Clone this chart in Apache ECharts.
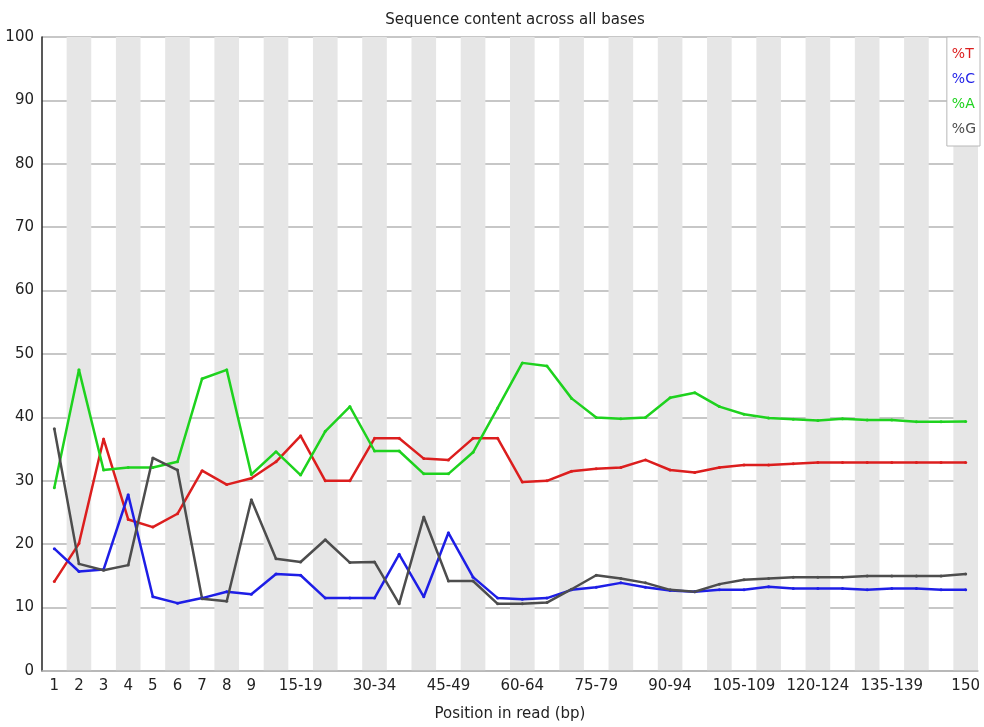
<!DOCTYPE html>
<html>
<head>
<meta charset="utf-8">
<script src="https://cdn.jsdelivr.net/npm/echarts@6/dist/echarts.min.js"></script>
<style>
  html, body { margin: 0; padding: 0; background: #fff; }
  #chart { width: 984px; height: 727px; }
</style>
</head>
<body>
<div id="chart"></div>
<script>
// Read positions (single bases, then 5-bp bins, then the last base)
const positions = ['1','2','3','4','5','6','7','8','9',
  '10-14','15-19','20-24','25-29','30-34','35-39','40-44','45-49','50-54','55-59',
  '60-64','65-69','70-74','75-79','80-84','85-89','90-94','95-99','100-104',
  '105-109','110-114','115-119','120-124','125-129','130-134','135-139','140-144',
  '145-149','150'];

// Percentage of each base at every position
const pctT = [14.1, 20.1, 36.6, 23.9, 22.7, 24.8, 31.6, 29.4, 30.4, 33.0, 37.1, 30.0, 30.0,
  36.7, 36.7, 33.5, 33.3, 36.7, 36.7, 29.8, 30.0, 31.5, 31.9, 32.1, 33.3, 31.7, 31.3, 32.1,
  32.5, 32.5, 32.7, 32.9, 32.9, 32.9, 32.9, 32.9, 32.9, 32.9];
const pctC = [19.3, 15.7, 16.0, 27.8, 11.7, 10.7, 11.5, 12.5, 12.1, 15.3, 15.1, 11.5, 11.5,
  11.5, 18.4, 11.7, 21.8, 14.8, 11.5, 11.3, 11.5, 12.8, 13.2, 13.9, 13.2, 12.7, 12.5, 12.8,
  12.8, 13.3, 13.0, 13.0, 13.0, 12.8, 13.0, 13.0, 12.8, 12.8];
const pctA = [28.9, 47.5, 31.7, 32.1, 32.1, 33.0, 46.1, 47.5, 31.0, 34.6, 30.9, 37.8, 41.7,
  34.7, 34.7, 31.1, 31.1, 34.5, 41.5, 48.6, 48.1, 43.0, 40.0, 39.8, 40.0, 43.1, 43.9, 41.7,
  40.5, 39.9, 39.7, 39.5, 39.8, 39.6, 39.6, 39.3, 39.3, 39.35];
const pctG = [38.2, 16.9, 15.9, 16.7, 33.6, 31.7, 11.4, 11.0, 27.0, 17.7, 17.2, 20.7, 17.1,
  17.2, 10.6, 24.3, 14.2, 14.2, 10.6, 10.6, 10.8, 12.9, 15.1, 14.6, 13.9, 12.8, 12.5, 13.7,
  14.4, 14.6, 14.8, 14.8, 14.8, 15.0, 15.0, 15.0, 15.0, 15.3];

const yTicks = { min: 0, max: 100, step: 10 };

const FONT = 'DejaVu Sans';
const colors = { T: '#dc1e1e', C: '#1e1ee6', A: '#1ed21e', G: '#4d4d4d' };

function line(name, data, color) {
  return {
    name, type: 'line', data,
    symbol: 'circle', symbolSize: 3, showSymbol: true,
    lineStyle: { color, width: 2.5 },
    itemStyle: { color },
    emphasis: { disabled: true },
    animation: false
  };
}

const chart = echarts.init(document.getElementById('chart'), null, { renderer: 'canvas' });
chart.setOption({
  animation: false,
  backgroundColor: '#ffffff',
  title: {
    text: 'Sequence content across all bases',
    left: 510, textAlign: 'center', top: 8,
    textStyle: { fontFamily: FONT, fontSize: 15, fontWeight: 'normal', color: '#222' }
  },
  grid: { left: 42, right: 6, top: 37, bottom: 50, containLabel: false },
  legend: {
    orient: 'vertical', right: 4, top: 37,
    icon: 'none', itemWidth: 0, itemHeight: 12, itemGap: 11,
    padding: [10, 4, 10, 4],
    backgroundColor: '#ffffff', borderColor: '#b8b8b8', borderWidth: 1,
    align: 'left',
    textStyle: { fontFamily: FONT, fontSize: 14, padding: [0, 0, 0, -4] },
    selectedMode: false,
    data: [
      { name: '%T', textStyle: { color: colors.T } },
      { name: '%C', textStyle: { color: colors.C } },
      { name: '%A', textStyle: { color: colors.A } },
      { name: '%G', textStyle: { color: colors.G } }
    ]
  },
  xAxis: {
    type: 'category', data: positions, boundaryGap: true,
    name: 'Position in read (bp)', nameLocation: 'middle', nameGap: 36,
    nameTextStyle: { fontFamily: FONT, fontSize: 15, color: '#222' },
    axisLine: { show: true, lineStyle: { color: '#b4b4b4', width: 1.5 } },
    axisTick: { show: false, interval: 0 },
    axisLabel: {
      fontFamily: FONT, fontSize: 15, color: '#222', margin: 8,
      interval: function (i) { return i < 9 || (i - 10) % 3 === 0; }
    },
    splitLine: { show: false },
    splitArea: { show: true, interval: 0, areaStyle: { color: ['rgba(255,255,255,0)', '#e6e6e6'] } }
  },
  yAxis: {
    type: 'value', min: yTicks.min, max: yTicks.max, interval: yTicks.step,
    axisLine: { show: true, lineStyle: { color: '#222', width: 1.5 } },
    axisTick: { show: false },
    axisLabel: { fontFamily: FONT, fontSize: 15, color: '#222', margin: 8 },
    splitLine: { show: true, lineStyle: { color: '#b4b4b4', width: 1.5 } }
  },
  series: [
    line('%T', pctT, colors.T),
    line('%C', pctC, colors.C),
    line('%A', pctA, colors.A),
    line('%G', pctG, colors.G)
  ]
});
</script>
</body>
</html>
